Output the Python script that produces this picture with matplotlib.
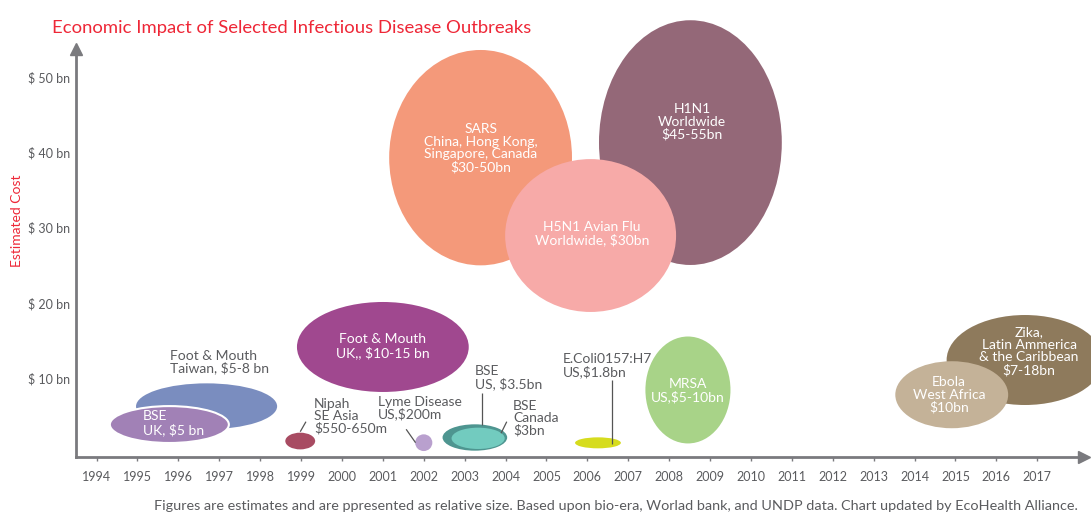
import matplotlib
matplotlib.use("Agg")
import matplotlib.pyplot as plt
from matplotlib.patches import Ellipse

# ---------------- data ----------------
names = ["FMD Taiwan", "BSE UK", "FMD UK", "SARS", "H1N1", "H5N1", "Nipah", "Lyme",
         "BSE US", "BSE Canada", "E.Coli", "MRSA", "Zika", "Ebola"]
center_year = [1996.69, 1995.78, 2001.0, 2003.39, 2008.52, 2006.08, 1998.98, 2002.0,
               2003.25, 2003.33, 2006.26, 2008.46, 2016.70, 2014.91]
center_cost = [6.28, 3.86, 14.16, 39.3, 41.3, 28.96, 1.67, 1.45,
               2.14, 2.03, 1.43, 8.45, 12.43, 7.82]
span_years = [3.45, 2.91, 4.2, 4.47, 4.47, 4.18, 0.73, 0.42,
              1.58, 1.30, 1.12, 2.08, 3.83, 2.76]
span_cost = [6.1, 4.9, 11.95, 28.6, 32.5, 20.3, 2.22, 2.22,
             3.5, 2.83, 1.46, 14.2, 11.95, 8.9]
colors = ["#7A8DBF", "#A181B6", "#A0488F", "#F4997A", "#946878", "#F7AAA8", "#A84B62", "#B9A0CE",
          "#4E9590", "#72CBBF", "#D6DC1E", "#A8D388", "#8E7A5C", "#C4B298"]
edge = ["none", "white", "none", "none", "none", "none", "none", "none",
        "none", "none", "none", "none", "none", "none"]

years = list(range(1994, 2018))
cost_ticks = [10, 20, 30, 40, 50]
cost_labels = ["$ 10 bn", "$ 20 bn", "$ 30 bn", "$ 40 bn", "$ 50 bn"]

# labels: text, x, y, ha
inner_labels = [
    ("BSE\nUK, $5 bn", 1995.14, 4.06, "left"),
    ("Foot & Mouth\nUK,, $10-15 bn", 2001.0, 14.29, "center"),
    ("SARS\nChina, Hong Kong,\nSingapore, Canada\n$30-50bn", 2003.39, 40.52, "center"),
    ("H1N1\nWorldwide\n$45-55bn", 2008.56, 44.04, "center"),
    ("H5N1 Avian Flu\nWorldwide, $30bn", 2006.11, 29.23, "center"),
    ("MRSA\nUS,$5-10bn", 2008.46, 8.34, "center"),
    ("Zika,\nLatin Ammerica\n& the Caribbean\n$7-18bn", 2016.80, 13.59, "center"),
    ("Ebola\nWest Africa\n$10bn", 2014.84, 7.78, "center"),
]
outer_labels = [
    ("Foot & Mouth\nTaiwan, $5-8 bn", 1995.80, 12.16),
    ("Nipah\nSE Asia\n$550-650m", 1999.32, 4.90),
    ("Lyme Disease\nUS,$200m", 2000.88, 6.05),
    ("BSE\nUS, $3.5bn", 2003.25, 10.11),
    ("BSE\nCanada\n$3bn", 2004.18, 4.69),
    ("E.Coli0157:H7\nUS,$1.8bn", 2005.40, 11.73),
]
leaders = [
    ([1998.98, 1999.12], [2.91, 4.24]),
    ([2001.57, 2001.80], [3.23, 1.45]),
    ([2003.43, 2003.43], [3.80, 8.05]),
    ([2003.89, 2004.03], [2.70, 4.24]),
    ([2006.60, 2006.60], [1.27, 9.77]),
]

# ---------------- style ----------------
plt.rcParams['font.family'] = ['Lato', 'DejaVu Sans']
AX = "#7a7a7e"
TXT = "#5a5b5e"
RED = "#EE2737"

fig = plt.figure(figsize=(10.91, 5.12), dpi=100)
ax = fig.add_axes([75.7 / 1091, (512 - 457.3) / 512, (1084 - 75.7) / 1091, (457.3 - 49) / 512])
ax.set_xlim(1993.49, 2018.144)
ax.set_ylim(-0.49, 53.73)
ax.patch.set_alpha(0)

for s in ["top", "right"]:
    ax.spines[s].set_visible(False)
for s in ["left", "bottom"]:
    ax.spines[s].set_color(AX)
    ax.spines[s].set_linewidth(2)

ax.set_xticks(years)
ax.set_xticklabels([str(y) for y in years], fontsize=9, color=TXT)
ax.tick_params(axis="x", direction="out", length=3, width=1, color=AX, pad=7)
ax.set_yticks(cost_ticks)
ax.set_yticklabels(cost_labels, fontsize=9, color=TXT)
ax.tick_params(axis="y", length=0, pad=4)

ax.plot(1, 0, ">", color=AX, markersize=8, transform=ax.transAxes, clip_on=False)
ax.plot(0, 1, "^", color=AX, markersize=8, transform=ax.transAxes, clip_on=False)

for i in range(len(names)):
    e = Ellipse((center_year[i], center_cost[i]), span_years[i], span_cost[i],
                facecolor=colors[i], edgecolor=edge[i],
                linewidth=1.5 if edge[i] != "none" else 0, clip_on=False, zorder=2 + i * 0.01)
    ax.add_patch(e)

for t, x, y, ha in inner_labels:
    ax.text(x, y, t, ha=ha, va="center", color="white", fontsize=10,
            linespacing=1.05, zorder=5)
for t, x, y in outer_labels:
    ax.text(x, y, t, ha="left", va="center", color=TXT, fontsize=10,
            linespacing=1.0, zorder=5)
for xs, ys in leaders:
    ax.plot(xs, ys, color="#555555", linewidth=0.9, zorder=4, solid_capstyle="butt")

fig.text(52 / 1091, 1 - 28 / 512, "Economic Impact of Selected Infectious Disease Outbreaks",
         color=RED, fontsize=13.3, ha="left", va="center")
fig.text(16.7 / 1091, 1 - 221 / 512, "Estimated Cost", color=RED, fontsize=10,
         rotation=90, ha="center", va="center")
fig.text(616 / 1091, 1 - 506 / 512,
         "Figures are estimates and are ppresented as relative size. Based upon bio-era, Worlad bank, and UNDP data. Chart updated by EcoHealth Alliance.",
         color=TXT, fontsize=10.4, ha="center", va="center")

fig.savefig("out.png", dpi=100)
